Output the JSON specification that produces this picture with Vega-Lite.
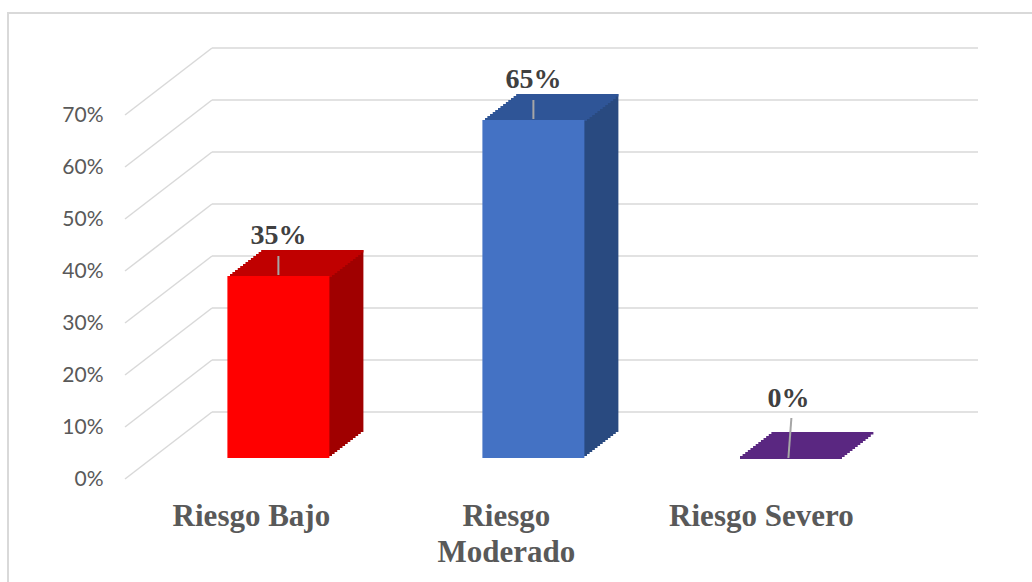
{
"$schema":"https://vega.github.io/schema/vega-lite/v6.json",
"width":766,"height":437,
"autosize":{"type":"none"},
"padding":{"left":212,"top":42,"right":54,"bottom":103},
"background":"#ffffff",
"config":{"view":{"stroke":null}},
"datasets":{
 "riesgo":[{"categoria":"Riesgo Bajo","valor":0.35},{"categoria":"Riesgo Moderado","valor":0.65},{"categoria":"Riesgo Severo","valor":0}],
 "marcas":[{"v":0},{"v":0.1},{"v":0.2},{"v":0.3},{"v":0.4},{"v":0.5},{"v":0.6},{"v":0.7}]
},
"resolve":{"scale":{"x":"independent","y":"independent"}},
"layer":[
 {"layer":[
   {"data":{"name":"marcas"},"mark":{"type":"rule","color":"#D9D9D9","strokeWidth":1.5},"encoding":{"y":{"field":"v","type":"quantitative","scale":{"domain":[-0.1288,0.7115],"nice":false,"zero":false},"axis":null}}},
   {"data":{"values":[{"marco":"borde"}]},"mark":{"type":"rect","fill":"#ffffff","fillOpacity":0,"stroke":"#D9D9D9","strokeWidth":2,"clip":false},"encoding":{"x":{"datum":-0.2663,"type":"quantitative","scale":{"domain":[0,1],"nice":false,"zero":false},"axis":null},"x2":{"datum":1.16},"y":{"datum":0.7673,"type":"quantitative"},"y2":{"datum":-0.3615}}}
 ]},
 {"data":{"name":"marcas"},"mark":{"type":"rule","color":"#D9D9D9","strokeWidth":1.5,"xOffset":-87,"y2Offset":-67},
  "encoding":{
   "x":{"datum":0,"type":"quantitative","scale":{"domain":[0,1],"nice":false,"zero":false},"axis":null},
   "x2":{"datum":0},
   "y":{"field":"v","type":"quantitative","scale":{"domain":[0,0.8404],"nice":false,"zero":false},
        "axis":{"orient":"left","offset":104,"values":[0,0.1,0.2,0.3,0.4,0.5,0.6,0.7],"format":".0%","domain":false,"ticks":false,"grid":false,"labelPadding":5,"labelFont":"Lato","labelFontSize":21,"labelColor":"#595959","labelFlush":false,"labelOverlap":false,"title":null}},
   "y2":{"field":"v"}}},
 {"data":{"name":"riesgo"},
  "resolve":{"scale":{"color":"independent"}},
  "encoding":{
   "x":{"field":"categoria","type":"nominal","sort":null,"scale":{"paddingInner":0.6,"paddingOuter":0.302,"align":0.1},
        "axis":{"orient":"bottom","domain":false,"ticks":false,"labelAngle":0,"labelFont":"Liberation Serif","labelFontWeight":"bold","labelFontSize":31,"labelColor":"#595959","labelPadding":22,"labelOffset":-27,"labelLineHeight":36,"labelLimit":400,"title":null,"labelExpr":"datum.value == 'Riesgo Moderado' ? ['Riesgo', 'Moderado'] : datum.label"}},
   "y":{"field":"valor","type":"quantitative","scale":{"domain":[-0.0404,0.8],"nice":false,"zero":false},"axis":null}
  },
  "layer":[
   {"mark":{"type":"bar","xOffset":2.615,"yOffset":-2,"y2Offset":-2},"encoding":{"y2":{"datum":0},"color":{"field":"categoria","type":"nominal","legend":null,"scale":{"range":["#A00000","#294A80","#46205F"]}}}},
   {"mark":{"type":"bar","xOffset":5.231,"yOffset":-4,"y2Offset":-4},"encoding":{"y2":{"datum":0},"color":{"field":"categoria","type":"nominal","legend":null,"scale":{"range":["#A00000","#294A80","#46205F"]}}}},
   {"mark":{"type":"bar","xOffset":7.846,"yOffset":-6,"y2Offset":-6},"encoding":{"y2":{"datum":0},"color":{"field":"categoria","type":"nominal","legend":null,"scale":{"range":["#A00000","#294A80","#46205F"]}}}},
   {"mark":{"type":"bar","xOffset":10.462,"yOffset":-8,"y2Offset":-8},"encoding":{"y2":{"datum":0},"color":{"field":"categoria","type":"nominal","legend":null,"scale":{"range":["#A00000","#294A80","#46205F"]}}}},
   {"mark":{"type":"bar","xOffset":13.077,"yOffset":-10,"y2Offset":-10},"encoding":{"y2":{"datum":0},"color":{"field":"categoria","type":"nominal","legend":null,"scale":{"range":["#A00000","#294A80","#46205F"]}}}},
   {"mark":{"type":"bar","xOffset":15.692,"yOffset":-12,"y2Offset":-12},"encoding":{"y2":{"datum":0},"color":{"field":"categoria","type":"nominal","legend":null,"scale":{"range":["#A00000","#294A80","#46205F"]}}}},
   {"mark":{"type":"bar","xOffset":18.308,"yOffset":-14,"y2Offset":-14},"encoding":{"y2":{"datum":0},"color":{"field":"categoria","type":"nominal","legend":null,"scale":{"range":["#A00000","#294A80","#46205F"]}}}},
   {"mark":{"type":"bar","xOffset":20.923,"yOffset":-16,"y2Offset":-16},"encoding":{"y2":{"datum":0},"color":{"field":"categoria","type":"nominal","legend":null,"scale":{"range":["#A00000","#294A80","#46205F"]}}}},
   {"mark":{"type":"bar","xOffset":23.538,"yOffset":-18,"y2Offset":-18},"encoding":{"y2":{"datum":0},"color":{"field":"categoria","type":"nominal","legend":null,"scale":{"range":["#A00000","#294A80","#46205F"]}}}},
   {"mark":{"type":"bar","xOffset":26.154,"yOffset":-20,"y2Offset":-20},"encoding":{"y2":{"datum":0},"color":{"field":"categoria","type":"nominal","legend":null,"scale":{"range":["#A00000","#294A80","#46205F"]}}}},
   {"mark":{"type":"bar","xOffset":28.769,"yOffset":-22,"y2Offset":-22},"encoding":{"y2":{"datum":0},"color":{"field":"categoria","type":"nominal","legend":null,"scale":{"range":["#A00000","#294A80","#46205F"]}}}},
   {"mark":{"type":"bar","xOffset":31.385,"yOffset":-24,"y2Offset":-24},"encoding":{"y2":{"datum":0},"color":{"field":"categoria","type":"nominal","legend":null,"scale":{"range":["#A00000","#294A80","#46205F"]}}}},
   {"mark":{"type":"bar","xOffset":34,"yOffset":-26,"y2Offset":-26},"encoding":{"y2":{"datum":0},"color":{"field":"categoria","type":"nominal","legend":null,"scale":{"range":["#A00000","#294A80","#46205F"]}}}},
   {"mark":{"type":"bar","xOffset":2.615,"yOffset":-2,"y2Offset":1},"encoding":{"y2":{"field":"valor"},"color":{"field":"categoria","type":"nominal","legend":null,"scale":{"range":["#C00000","#2F5597","#5A2781"]}}}},
   {"mark":{"type":"bar","xOffset":5.231,"yOffset":-4,"y2Offset":-1},"encoding":{"y2":{"field":"valor"},"color":{"field":"categoria","type":"nominal","legend":null,"scale":{"range":["#C00000","#2F5597","#5A2781"]}}}},
   {"mark":{"type":"bar","xOffset":7.846,"yOffset":-6,"y2Offset":-3},"encoding":{"y2":{"field":"valor"},"color":{"field":"categoria","type":"nominal","legend":null,"scale":{"range":["#C00000","#2F5597","#5A2781"]}}}},
   {"mark":{"type":"bar","xOffset":10.462,"yOffset":-8,"y2Offset":-5},"encoding":{"y2":{"field":"valor"},"color":{"field":"categoria","type":"nominal","legend":null,"scale":{"range":["#C00000","#2F5597","#5A2781"]}}}},
   {"mark":{"type":"bar","xOffset":13.077,"yOffset":-10,"y2Offset":-7},"encoding":{"y2":{"field":"valor"},"color":{"field":"categoria","type":"nominal","legend":null,"scale":{"range":["#C00000","#2F5597","#5A2781"]}}}},
   {"mark":{"type":"bar","xOffset":15.692,"yOffset":-12,"y2Offset":-9},"encoding":{"y2":{"field":"valor"},"color":{"field":"categoria","type":"nominal","legend":null,"scale":{"range":["#C00000","#2F5597","#5A2781"]}}}},
   {"mark":{"type":"bar","xOffset":18.308,"yOffset":-14,"y2Offset":-11},"encoding":{"y2":{"field":"valor"},"color":{"field":"categoria","type":"nominal","legend":null,"scale":{"range":["#C00000","#2F5597","#5A2781"]}}}},
   {"mark":{"type":"bar","xOffset":20.923,"yOffset":-16,"y2Offset":-13},"encoding":{"y2":{"field":"valor"},"color":{"field":"categoria","type":"nominal","legend":null,"scale":{"range":["#C00000","#2F5597","#5A2781"]}}}},
   {"mark":{"type":"bar","xOffset":23.538,"yOffset":-18,"y2Offset":-15},"encoding":{"y2":{"field":"valor"},"color":{"field":"categoria","type":"nominal","legend":null,"scale":{"range":["#C00000","#2F5597","#5A2781"]}}}},
   {"mark":{"type":"bar","xOffset":26.154,"yOffset":-20,"y2Offset":-17},"encoding":{"y2":{"field":"valor"},"color":{"field":"categoria","type":"nominal","legend":null,"scale":{"range":["#C00000","#2F5597","#5A2781"]}}}},
   {"mark":{"type":"bar","xOffset":28.769,"yOffset":-22,"y2Offset":-19},"encoding":{"y2":{"field":"valor"},"color":{"field":"categoria","type":"nominal","legend":null,"scale":{"range":["#C00000","#2F5597","#5A2781"]}}}},
   {"mark":{"type":"bar","xOffset":31.385,"yOffset":-24,"y2Offset":-21},"encoding":{"y2":{"field":"valor"},"color":{"field":"categoria","type":"nominal","legend":null,"scale":{"range":["#C00000","#2F5597","#5A2781"]}}}},
   {"mark":{"type":"bar","xOffset":34,"yOffset":-26,"y2Offset":-23.5},"encoding":{"y2":{"field":"valor"},"color":{"field":"categoria","type":"nominal","legend":null,"scale":{"range":["#C00000","#2F5597","#5A2781"]}}}},
   {"mark":{"type":"bar"},"encoding":{"y2":{"datum":0},"color":{"field":"categoria","type":"nominal","legend":null,"scale":{"range":["#FF0000","#4472C4","#7030A0"]}}}},
   {"transform":[{"filter":"datum.valor > 0"}],"mark":{"type":"rule","color":"#A6A6A6","strokeWidth":2,"yOffset":-1,"y2Offset":-20},"encoding":{"y2":{"field":"valor"}}},
   {"transform":[{"filter":"datum.valor == 0"}],"mark":{"type":"rule","color":"#A6A6A6","strokeWidth":2,"y2Offset":-40,"x2Offset":3},"encoding":{"x2":{"field":"categoria"},"y2":{"field":"valor"}}},
   {"transform":[{"filter":"datum.valor > 0"}],"mark":{"type":"text","dy":-32,"font":"Liberation Serif","fontWeight":"bold","fontSize":28,"color":"#404040","baseline":"alphabetic"},"encoding":{"text":{"field":"valor","type":"quantitative","format":".0%"}}},
   {"transform":[{"filter":"datum.valor == 0"}],"mark":{"type":"text","dy":-51,"font":"Liberation Serif","fontWeight":"bold","fontSize":28,"color":"#404040","baseline":"alphabetic"},"encoding":{"text":{"field":"valor","type":"quantitative","format":".0%"}}}
  ]}
]
}
